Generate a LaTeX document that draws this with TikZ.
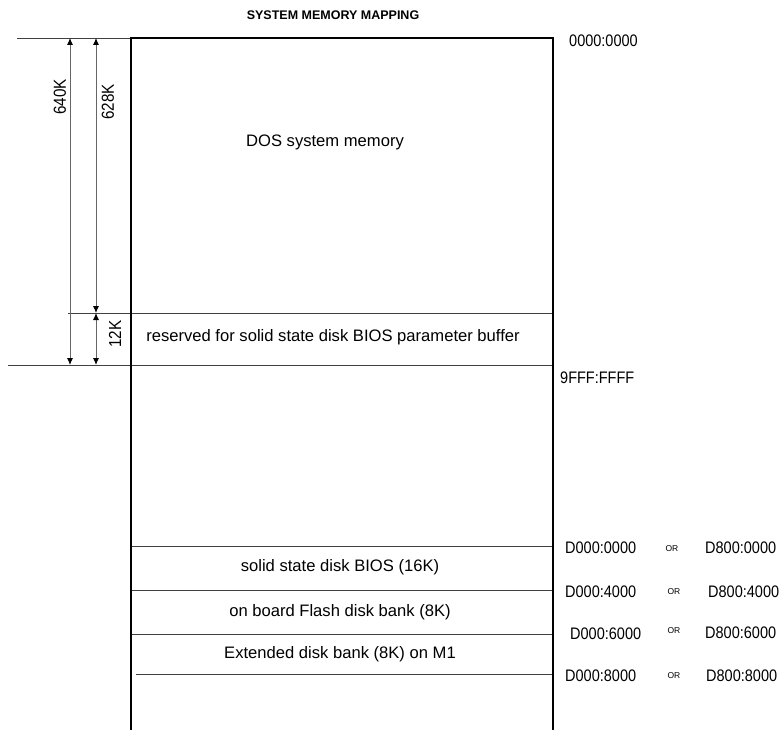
\documentclass[tikz,border=0pt]{standalone}
\usepackage{fontspec}
\setmainfont{Liberation Sans}
\usetikzlibrary{arrows.meta}
\begin{document}
\begin{tikzpicture}[x=1pt,y=-1pt,
  thinline/.style={draw=black!75,line width=0.9pt},
  boxline/.style={draw=black,line width=2.4pt},
  dimarrow/.style={draw=black!60,line width=0.9pt,{Latex[length=7pt,width=6pt,color=black]}-{Latex[length=7pt,width=6pt,color=black]}},
  body/.style={font=\fontsize{16.6}{19}\selectfont,inner sep=0pt},
  addr/.style={font=\fontsize{14.5}{17}\selectfont,inner sep=0pt,anchor=west},
  orlbl/.style={font=\fontsize{8.5}{9}\selectfont,inner sep=0pt},
  dimlbl/.style={font=\fontsize{14.5}{16}\selectfont,inner sep=0pt,rotate=90}]
\useasboundingbox (0,0) rectangle (781,730);
% title
\node[font=\fontsize{12.5}{14}\selectfont\bfseries,inner sep=0pt] (title) at (333,15) {SYSTEM MEMORY MAPPING};
% key coordinates
\coordinate (tl) at (131,38);
\coordinate (tr) at (553,38);
\coordinate (bl) at (131,730);
\coordinate (br) at (553,730);
% thin horizontal lines
\draw[thinline] (17,38) -- (tl);
\draw[thinline] (68,313) -- (553,313);
\draw[thinline] (8,365) -- (553,365);
\draw[thinline] (131,546) -- (553,546);
\draw[thinline] (131,590) -- (553,590);
\draw[thinline] (131,634) -- (553,634);
\draw[thinline] (136,674) -- (553,674);
% box
\draw[boxline] (bl) -- (tl) -- (tr) -- (br);
% dimension arrows
\coordinate (a1t) at (70,38);  \coordinate (a1b) at (70,365);
\coordinate (a2t) at (96,38);  \coordinate (a2m) at (96,313);
\coordinate (a3b) at (96,365);
\draw[dimarrow] (a1t) -- (a1b);
\draw[dimarrow] (a2t) -- (a2m);
\draw[dimarrow] (a2m) -- (a3b);
\node[dimlbl] (k640) at (60,97) {\scalebox{1.05}[1.2]{640K}};
\node[dimlbl] (k628) at (108,102) {\scalebox{1.05}[1.2]{628K}};
\node[dimlbl] (k12) at (115,334) {\scalebox{1.05}[1.2]{12K}};
% texts in box
\node[body] (dos) at (325,142) {DOS system memory};
\node[body] (res) at (333,337) {reserved for solid state disk BIOS parameter buffer};
\node[body] (ssd) at (340,567) {solid state disk BIOS (16K)};
\node[body] (fl) at (340,612) {on board Flash disk bank (8K)};
\node[body] (ext) at (340,654) {Extended disk bank (8K) on M1};
% addresses
\node[addr] (ad0) at (569,41) {\scalebox{1}[1.15]{0000:0000}};
\node[addr] (ad9) at (560,378) {\scalebox{1}[1.15]{9FFF:FFFF}};
\node[addr] (d0a) at (565,548) {\scalebox{1}[1.15]{D000:0000}};
\node[orlbl] (or1) at (672,549) {OR};
\node[addr] (d8a) at (705,548) {\scalebox{1}[1.15]{D800:0000}};
\node[addr] (d0b) at (565,592) {\scalebox{1}[1.15]{D000:4000}};
\node[orlbl] (or2) at (674,592) {OR};
\node[addr] (d8b) at (708,592) {\scalebox{1}[1.15]{D800:4000}};
\node[addr] (d0c) at (570,634) {\scalebox{1}[1.15]{D000:6000}};
\node[orlbl] (or3) at (674,631) {OR};
\node[addr] (d8c) at (705,633) {\scalebox{1}[1.15]{D800:6000}};
\node[addr] (d0d) at (565,676) {\scalebox{1}[1.15]{D000:8000}};
\node[orlbl] (or4) at (674,676) {OR};
\node[addr] (d8d) at (706,676) {\scalebox{1}[1.15]{D800:8000}};
\end{tikzpicture}
\end{document}
